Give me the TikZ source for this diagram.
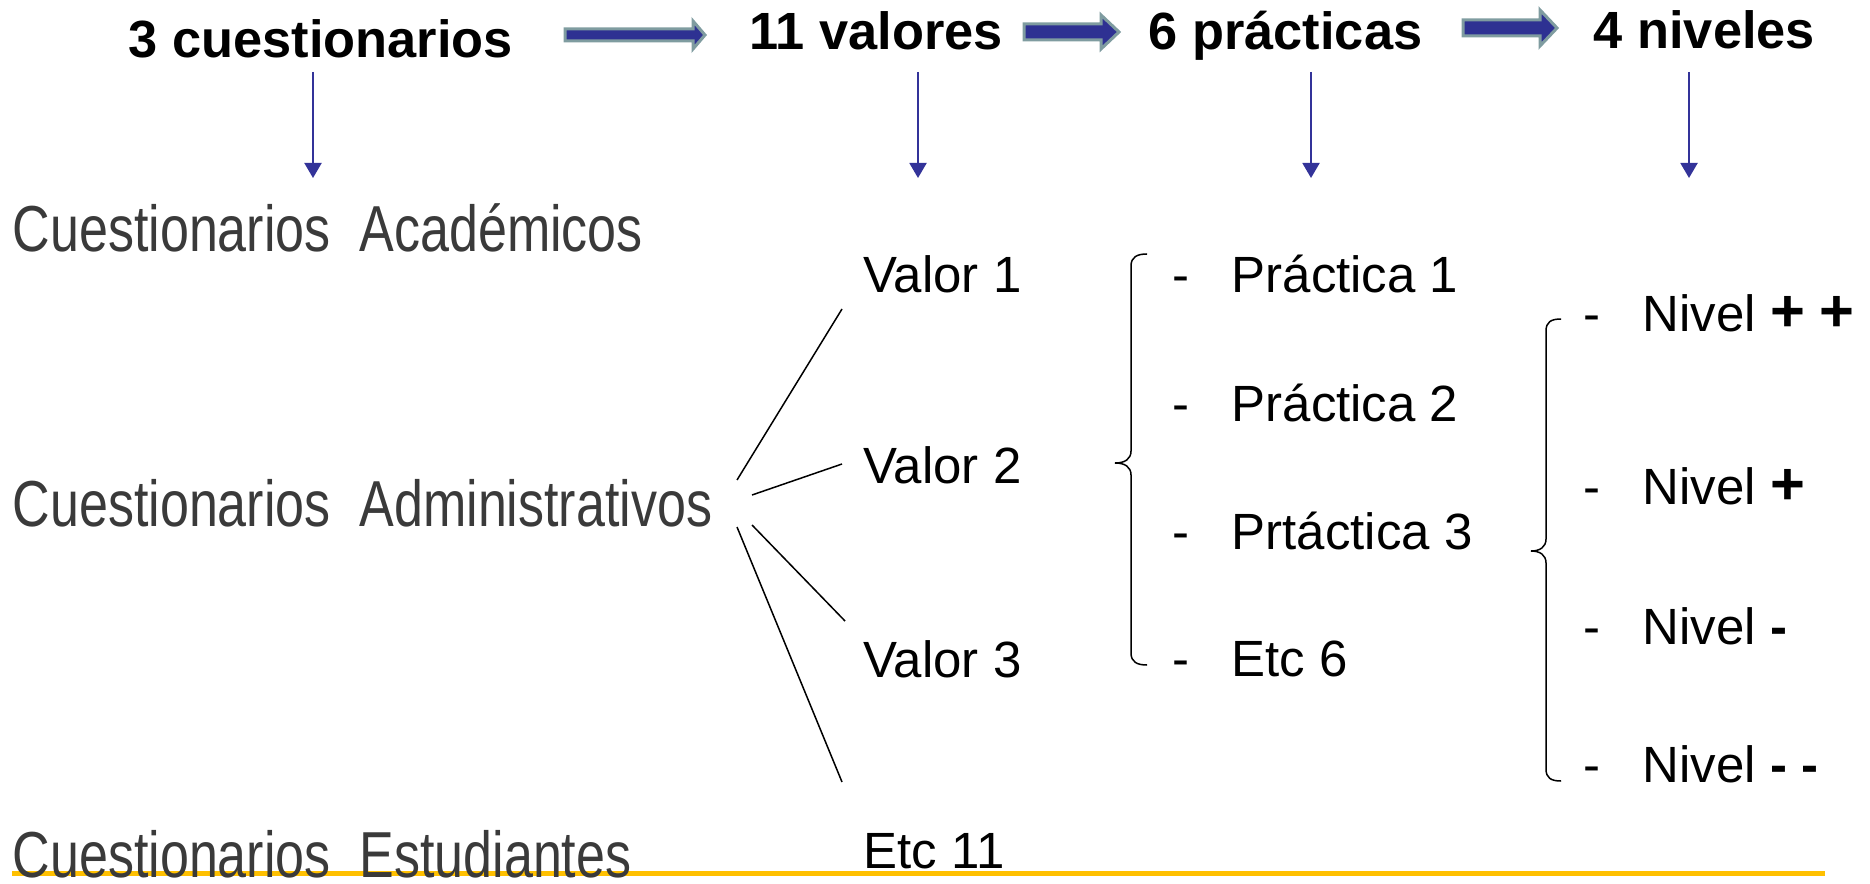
\documentclass[tikz,border=0pt]{standalone}
\usepackage{fontspec}
\setmainfont{Liberation Sans}
\newfontfamily\narrowfont[FakeStretch=0.8]{Liberation Sans}
\usetikzlibrary{arrows.meta}
\definecolor{arrowblue}{HTML}{333399}
\definecolor{fatblue}{HTML}{2E3192}
\definecolor{fatedge}{HTML}{7F9CA0}
\definecolor{darkgrey}{HTML}{3A3A3A}
\definecolor{linegold}{HTML}{FFC000}
\newcommand{\bigsign}[1]{{\fontsize{17}{17}\selectfont\bfseries #1}}

\begin{document}
\begin{tikzpicture}[x=0.1mm,y=-0.1mm,
    title/.style={anchor=base west, inner sep=0, font=\fontsize{14.9}{18}\selectfont\bfseries},
    greytext/.style={anchor=base west, inner sep=0, text=darkgrey, font=\narrowfont\fontsize{18.5}{22}\selectfont},
    item/.style={anchor=base west, inner sep=0, font=\fontsize{14.5}{17}\selectfont},
    downarr/.style={arrowblue, line width=0.2mm, -{Triangle[width=1.7mm,length=1.5mm]}},
    fatarrow/.style={fill=fatblue, draw=fatedge, line width=0.3mm},
    fanline/.style={line width=0.15mm},
    bracel/.style={line width=0.15mm}]
                \useasboundingbox (0,0) rectangle (1870,883);

                % Titles
                \node[title] (t1) at (128,58) {3 cuestionarios};
                \node[title] (t2) at (749,50) {11 valores};
                \node[title] (t3) at (1148,50) {6 prácticas};
                \node[title] (t4) at (1593,49) {4 niveles};

                % Fat arrows between titles
                \draw[fatarrow] (565,29) -- (693,29) -- (693,21) -- (705,35) -- (693,49) -- (693,41) -- (565,41) -- cycle;
                \draw[fatarrow] (1024,24) -- (1101,24) -- (1101,15) -- (1119,32) -- (1101,49) -- (1101,40) -- (1024,40) -- cycle;
                \draw[fatarrow] (1463,20) -- (1540,20) -- (1540,10) -- (1557,28) -- (1540,46) -- (1540,36) -- (1463,36) -- cycle;

                % Down arrows
                \foreach \x [count=\i] in {313,918,1311,1689} {
                    \coordinate (top\i) at (\x,72);
                    \coordinate (bot\i) at (\x,178);
                    \draw[downarr] (top\i) -- (bot\i);
                }

                % Questionnaires
                \draw[linegold, line width=0.5mm] (12,873) -- (1825,873);
                \node[greytext] (ca) at (12,252) {Cuestionarios\ \ Académicos};
                \node[greytext] (cad) at (12,526) {Cuestionarios\ \ Administrativos};
                \node[greytext] (ces) at (12,877) {Cuestionarios\ \ Estudiantes};

                % Values
                \node[item] (v1) at (863,293) {Valor 1};
                \node[item] (v2) at (863,483) {Valor 2};
                \node[item] (v3) at (863,677) {Valor 3};
                \node[item] (v4) at (863,868) {Etc 11};

                % Fan
                \coordinate (f1a) at (737,480); \coordinate (f1b) at (842,309);
                \coordinate (f2a) at (752,495); \coordinate (f2b) at (842,464);
                \coordinate (f3a) at (752,525); \coordinate (f3b) at (845,621);
                \coordinate (f4a) at (737,527); \coordinate (f4b) at (842,782);
                \draw[fanline] (f1a) -- (f1b);
                \draw[fanline] (f2a) -- (f2b);
                \draw[fanline] (f3a) -- (f3b);
                \draw[fanline] (f4a) -- (f4b);

                % Practices
                \draw[bracel] (1147,254) .. controls (1137,254) and (1131,257) .. (1131,266) -- (1131,451)
                    .. controls (1131,459) and (1125,463) .. (1115,463) .. controls (1125,463) and (1131,467) .. (1131,475)
                    -- (1131,653) .. controls (1131,662) and (1137,665) .. (1147,665);
                \node[item] (pd1) at (1172,293) {-};
                \node[item] (p1) at (1231,293) {Práctica 1};
                \node[item] (pd2) at (1172,421) {-};
                \node[item] (p2) at (1231,421) {Práctica 2};
                \node[item] (pd3) at (1172,549) {-};
                \node[item] (p3) at (1231,549) {Prtáctica 3};
                \node[item] (pd4) at (1172,676) {-};
                \node[item] (p4) at (1231,676) {Etc 6};

                % Levels
                \draw[bracel] (1561,319) .. controls (1551,319) and (1546,322) .. (1546,331) -- (1546,539)
                    .. controls (1546,547) and (1540,551) .. (1531,551) .. controls (1540,551) and (1546,555) .. (1546,563)
                    -- (1546,769) .. controls (1546,778) and (1551,781) .. (1561,781);
                \node[item] (nd1) at (1583,331) {-};
                \node[item] (n1) at (1642,331) {Nivel \bigsign{+} \bigsign{+}};
                \node[item] (nd2) at (1583,504) {-};
                \node[item] (n2) at (1642,504) {Nivel \bigsign{+}};
                \node[item] (nd3) at (1583,644) {-};
                \node[item] (n3) at (1642,644) {Nivel \textbf{-}};
                \node[item] (nd4) at (1583,782) {-};
                \node[item] (n4) at (1642,782) {Nivel \textbf{-} \textbf{-}};
            \end{tikzpicture}
\end{document}
